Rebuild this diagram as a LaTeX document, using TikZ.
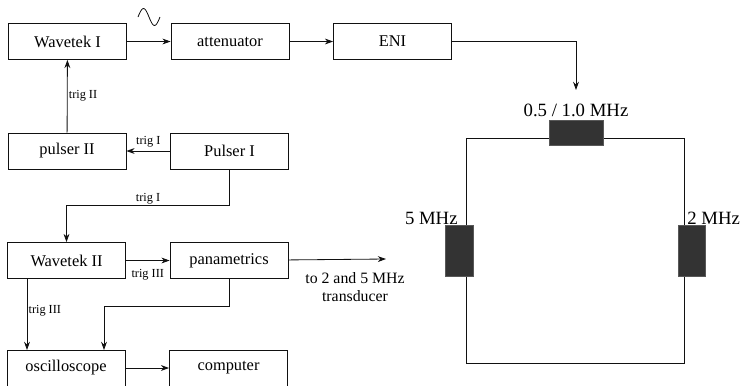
\documentclass[tikz,border=0pt]{standalone}
\usepackage{fontspec}
\setmainfont{Liberation Serif}
\usetikzlibrary{arrows.meta,calc,positioning}
\definecolor{RigInk}{HTML}{111111}
\definecolor{CrystalFill}{HTML}{333333}

\tikzset{
  devbox/.style={draw=RigInk, line width=0.7pt, minimum width=118*0.03cm,
    minimum height=36*0.03cm, inner sep=0pt, font=\fontsize{14}{16}\selectfont},
  wire/.style={draw=RigInk, line width=0.7pt},
  sig/.style={wire, -{Stealth[length=7pt,width=5pt]}},
  triglabel/.style={font=\fontsize{10.5}{12}\selectfont, inner sep=1pt},
  xducer/.style={draw=RigInk!70, fill=CrystalFill, inner sep=0pt},
  freqlabel/.style={font=\fontsize{16}{18}\selectfont, inner sep=1pt}
}

\begin{document}
\begin{tikzpicture}[x=0.03cm, y=-0.03cm]
  \useasboundingbox (0,0) rectangle (745,385);

  % instrument chain
  \node[devbox] (wavetekI)  at (67.5,41.5)  {Wavetek I};
  \node[devbox] (atten)     at (230,41.5)   {attenuator};
  \node[devbox] (eni)       at (392.5,41.5) {ENI};
  \node[devbox] (pulserII)  at (67,151)     {pulser II};
  \node[devbox] (pulserI)   at (229.5,151)  {Pulser I};
  \node[devbox] (wavetekII) at (66.5,260.5) {Wavetek II};
  \node[devbox] (pana)      at (229,260.5)  {panametrics};
  \node[devbox] (osc)       at (66,368)     {oscilloscope};
  \node[devbox] (comp)      at (228.5,368)  {computer};

  % free ends
  \coordinate (eniOut)  at (576,90);
  \coordinate (xdOut)   at (386,259);
  \coordinate (oscTrig) at (27,350);
  \coordinate (oscSig)  at (104,350);

  % sine symbol
  \draw[wire] plot[domain=0:1, smooth, samples=25] ({138+22*\x},{17-8.5*sin(360*\x)});

  \draw[sig] (wavetekI) -- (atten);
  \draw[sig] (atten) -- (eni);
  \draw[sig] (eni.east) -| (eniOut);

  \draw[sig] (pulserII) -- node[triglabel, anchor=west, pos=0.5] {trig II} (wavetekI);
  \draw[sig] (pulserI) -- node[triglabel, above=2pt] {trig I} (pulserII);
  \draw[sig] (pulserI.south) -- ++(0,36) -| node[triglabel, pos=0.25, above] {trig I} (wavetekII.north);

  \draw[sig] (wavetekII) -- node[triglabel, below=6pt] {trig III} (pana);
  \draw[sig] (pana) -- (xdOut);
  \node[font=\fontsize{13.5}{15.5}\selectfont, align=center, anchor=north] (xdText) at (355,268)
    {to 2 and 5 MHz\\transducer};

  \draw[sig] (wavetekII.south -| oscTrig) -- node[triglabel, anchor=west, pos=0.45] {trig III} (oscTrig);
  \draw[sig] (pana.south) -- ++(0,27) -| (oscSig);
  \draw[sig] (osc) -- (comp);

  % transducer loop
  \draw[wire] (466,138) rectangle (684,363);
  \node[xducer, minimum width=54*0.03cm, minimum height=25*0.03cm] (xdHalf) at (576,132.5) {};
  \node[xducer, minimum width=28*0.03cm, minimum height=51*0.03cm] (xdFive) at (459,250.5) {};
  \node[xducer, minimum width=27*0.03cm, minimum height=51*0.03cm] (xdTwo)  at (691.5,250.5) {};
  \node[freqlabel, above=1pt of xdHalf] {0.5 / 1.0 MHz};
  \node[freqlabel, anchor=south east] at (459,226) {5 MHz};
  \node[freqlabel, anchor=south west] at (686,226) {2 MHz};
\end{tikzpicture}
\end{document}
